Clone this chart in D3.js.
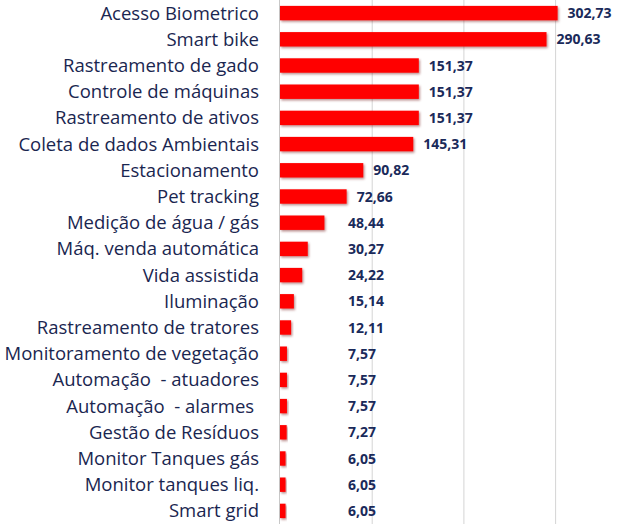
<!DOCTYPE html>
<html><head><meta charset="utf-8">
<script src="https://cdn.jsdelivr.net/npm/d3@7"></script>
<style>html,body{margin:0;padding:0;background:#fff;}svg{display:block;}</style>
</head><body>
<svg id="chart" width="622" height="524"></svg>
<script>
const categories = ["Acesso Biometrico","Smart bike","Rastreamento de gado","Controle de máquinas","Rastreamento de ativos","Coleta de dados Ambientais","Estacionamento","Pet tracking","Medição de água / gás","Máq. venda automática","Vida assistida","Iluminação","Rastreamento de tratores","Monitoramento de vegetação","Automação  - atuadores","Automação  - alarmes ","Gestão de Resíduos","Monitor Tanques gás","Monitor tanques liq.","Smart grid"];
const values = [302.73,290.63,151.37,151.37,151.37,145.31,90.82,72.66,48.44,30.27,24.22,15.14,12.11,7.57,7.57,7.57,7.27,6.05,6.05,6.05];
const gridTicks = [100,200,300];

const svg = d3.select("#chart");
const W = 622, H = 524;
const x = d3.scaleLinear().domain([0,100]).range([280,371.7]);
const y = d3.scaleBand().domain(categories).range([0,H]).paddingInner(0.45).paddingOuter(0.225);

const defs = svg.append("defs");
const f = defs.append("filter").attr("id","sh").attr("x","-20%").attr("y","-30%").attr("width","140%").attr("height","180%");
f.append("feDropShadow").attr("dx",1.2).attr("dy",1.5).attr("stdDeviation",0.8).attr("flood-color","#600").attr("flood-opacity",0.45);

// gridlines
svg.append("g").selectAll("line").data(gridTicks).join("line")
  .attr("x1",d=>x(d)+0.5).attr("x2",d=>x(d)+0.5).attr("y1",0).attr("y2",H)
  .attr("stroke","#d4d4d4").attr("stroke-width",1);
// axis line
svg.append("line").attr("x1",x(0)-0.5).attr("x2",x(0)-0.5).attr("y1",0).attr("y2",H).attr("stroke","#c8c8c8");

// bars
svg.append("g").selectAll("rect").data(values).join("rect")
  .attr("x",x(0)).attr("y",(d,i)=>y(categories[i]))
  .attr("width",d=>x(d)-x(0)).attr("height",y.bandwidth())
  .attr("fill","#ff0000").attr("filter","url(#sh)");

// category labels
svg.append("g").selectAll("text").data(categories).join("text")
  .attr("x",259).attr("y",d=>y(d)+y.bandwidth()/2).attr("dy","0.35em")
  .attr("text-anchor","end").attr("font-family","'Open Sans', sans-serif")
  .attr("font-size","18.5px").attr("fill","#1a2650").style("white-space","pre")
  .text(d=>d);

// value labels
const fmt = v => d3.format(".2f")(v).replace(".",",");
svg.append("g").selectAll("text").data(values).join("text")
  .attr("x",d=>Math.max(x(d)+10,348)).attr("y",(d,i)=>y(categories[i])+y.bandwidth()/2).attr("dy","0.36em")
  .attr("font-family","'Open Sans', 'DejaVu Sans', sans-serif").attr("font-weight","bold")
  .attr("font-size","14px").attr("fill","#1a2a5a")
  .text(fmt);
</script>
</body></html>
